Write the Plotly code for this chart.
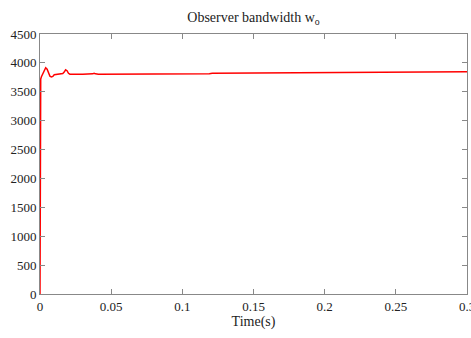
import plotly.graph_objects as go

t = [0, 0.0001, 0.0002, 0.0005, 0.001, 0.002, 0.003, 0.004, 0.005, 0.006, 0.007, 0.008, 0.009,
     0.010, 0.012, 0.014, 0.016, 0.017, 0.018, 0.019, 0.020, 0.021, 0.023, 0.026, 0.030,
     0.035, 0.037, 0.038, 0.039, 0.041, 0.05, 0.07, 0.09, 0.11, 0.119, 0.121, 0.15,
     0.177, 0.179, 0.2, 0.25, 0.3]
w = [0, 2500, 3600, 3720, 3760, 3810, 3880, 3915, 3890, 3810, 3770, 3755, 3765,
     3795, 3800, 3800, 3815, 3840, 3880, 3865, 3820, 3805, 3810, 3805, 3805,
     3805, 3810, 3820, 3810, 3805, 3805, 3805, 3808, 3810, 3812, 3822, 3825,
     3828, 3840, 3842, 3840, 3845]

xticks = [0, 0.05, 0.1, 0.15, 0.2, 0.25, 0.3]
yticks = list(range(0, 4501, 500))

fig = go.Figure(go.Scatter(x=t, y=w, mode="lines", line=dict(color="#ff0000", width=1.5),
                           showlegend=False))

FAM = "Times New Roman, Liberation Serif, serif"
font = dict(family=FAM, size=13, color="#222")
axis_common = dict(showgrid=False, zeroline=False, showline=True, linecolor="#888",
                   linewidth=1, mirror="ticks", ticks="inside", ticklen=5,
                   tickcolor="#888", automargin=False,
                   ticklabeloverflow="allow")

fig.update_layout(
    width=471, height=338,
    margin=dict(l=40, r=4, t=34, b=44, autoexpand=False),
    font=dict(family=FAM, size=13, color="#222"),
    paper_bgcolor="white", plot_bgcolor="white",
    title=dict(text="Observer bandwidth w<sub>o</sub>", x=0.5, xref="paper",
               y=1 - 17 / 338, yref="container", yanchor="middle",
               font=dict(family=FAM, size=14, color="#222")),
    xaxis=dict(range=[0, 0.3], tickvals=xticks, ticktext=[str(v) for v in xticks],
               tickfont=dict(family=FAM, size=13, color="#222"),
               title=dict(text="Time(s)", font=dict(family=FAM, size=14, color="#222"), standoff=2),
               **axis_common),
    yaxis=dict(range=[0, 4500], tickvals=yticks,
               tickfont=dict(family=FAM, size=13, color="#222"), **axis_common),
)

fig.write_html("out.html", config={"displayModeBar": False},
               post_script="document.body.style.margin='0';document.body.style.overflow='hidden';")
